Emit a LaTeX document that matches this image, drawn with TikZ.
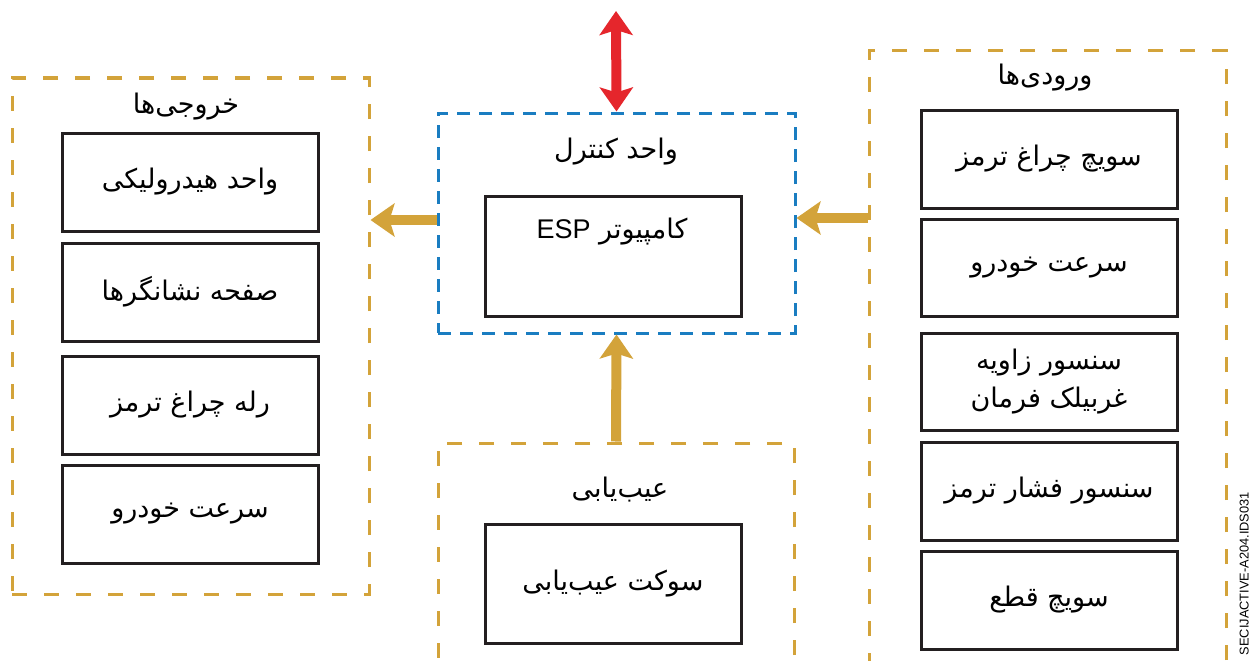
\documentclass[tikz,border=0pt]{standalone}
\usepackage{fontspec}
\setmainfont{Liberation Sans}
\newfontfamily\fa[Script=Arabic]{DejaVu Sans}
\TeXXeTstate=1
\usetikzlibrary{arrows.meta}
\definecolor{goldc}{HTML}{D3A33A}
\definecolor{bluec}{HTML}{1A7DC1}
\definecolor{redc}{HTML}{E5262C}
\definecolor{boxc}{HTML}{231F20}
\begin{document}
\begin{tikzpicture}[x=1pt,y=-1pt,
  box/.style={draw=boxc, line width=3pt, minimum width=256pt, minimum height=98pt,
    inner sep=0pt, align=center, font=\fa\fontsize{27}{38}\selectfont},
  group/.style={draw=goldc, line width=3pt, dash pattern=on 15pt off 17pt, inner sep=0pt},
  ctrlgroup/.style={draw=bluec, line width=3pt, dash pattern=on 13pt off 9pt, inner sep=0pt},
  title/.style={font=\fa\fontsize{27}{30}\selectfont, inner sep=0pt},
  goldarrow/.style={draw=goldc, line width=10pt, -{Stealth[length=24pt, width=33pt, inset=5pt]}},
  redarrow/.style={draw=redc, line width=10pt, {Stealth[length=24pt, width=33pt, inset=5pt]}-{Stealth[length=24pt, width=33pt, inset=5pt]}}
]
\useasboundingbox (0,0) rectangle (1250,661);
\clip (0,0) rectangle (1250,661);
\fill[white] (0,0) rectangle (1250,661);

% group frames
\node[group, minimum width=357pt, minimum height=516pt] (out) at (190.5,336) {};
\node[ctrlgroup, minimum width=357pt, minimum height=220pt] (ctrl) at (616.5,223) {};
\node[group, minimum width=357pt, minimum height=700pt] (in) at (1047.5,401) {};
\node[group, minimum width=356pt, minimum height=400pt] (diag) at (616,643) {};

% titles
\node[title] (tout) at (186,107) {\beginR خروجی^^^^200cها\endR};
\node[title] (tctrl) at (616,152) {\beginR واحد کنترل\endR};
\node[title] (tin) at (1045,78) {\beginR ورودی^^^^200cها\endR};
\node[title] (tdiag) at (620,490) {\beginR عیب^^^^200cیابی\endR};

% outputs
\node[box] (o1) at (190,182) {\beginR واحد هیدرولیکی\endR};
\node[box] (o2) at (190,292) {\beginR صفحه نشانگرها\endR};
\node[box] (o3) at (190,405) {\beginR رله چراغ ترمز\endR};
\node[box] (o4) at (190,514) {\beginR سرعت خودرو\endR};

% control unit
\node[box, minimum height=120pt] (esp) at (613,256) {};
\node[title] (esptxt) at (612,232) {\beginR کامپیوتر \beginL{\fontspec{Liberation Sans}ESP}\endL\endR};

% diagnosis
\node[box, minimum height=119pt] (sock) at (613,583.5) {\beginR سوکت عیب^^^^200cیابی\endR};

% inputs
\node[box] (i1) at (1049,159) {\beginR سویچ چراغ ترمز\endR};
\node[box, minimum height=97pt] (i2) at (1049,268) {\beginR سرعت خودرو\endR};
\node[box, minimum height=97pt] (i3) at (1049,381.5) {\beginR سنسور زاویه\endR\\\beginR غربیلک فرمان\endR};
\node[box] (i4) at (1049,491) {\beginR سنسور فشار ترمز\endR};
\node[box] (i5) at (1049,600) {\beginR سویچ قطع\endR};

% connectors
\coordinate (net) at (616,11);
\draw[goldarrow] ([yshift=3pt]ctrl.west) -- ([yshift=3pt]ctrl.west -| out.east);
\draw[goldarrow] (in.west |- 0,218) -- (ctrl.east |- 0,218);
\draw[goldarrow] (diag.north) -- (ctrl.south);
\draw[redarrow] (ctrl.north) -- (net);

% side code
\node[rotate=90, anchor=south east, inner sep=0pt, font=\fontsize{12.8}{15}\selectfont] (code) at (1249,492) {SECIJACTIVE-A204.IDS031};
\end{tikzpicture}
\end{document}
